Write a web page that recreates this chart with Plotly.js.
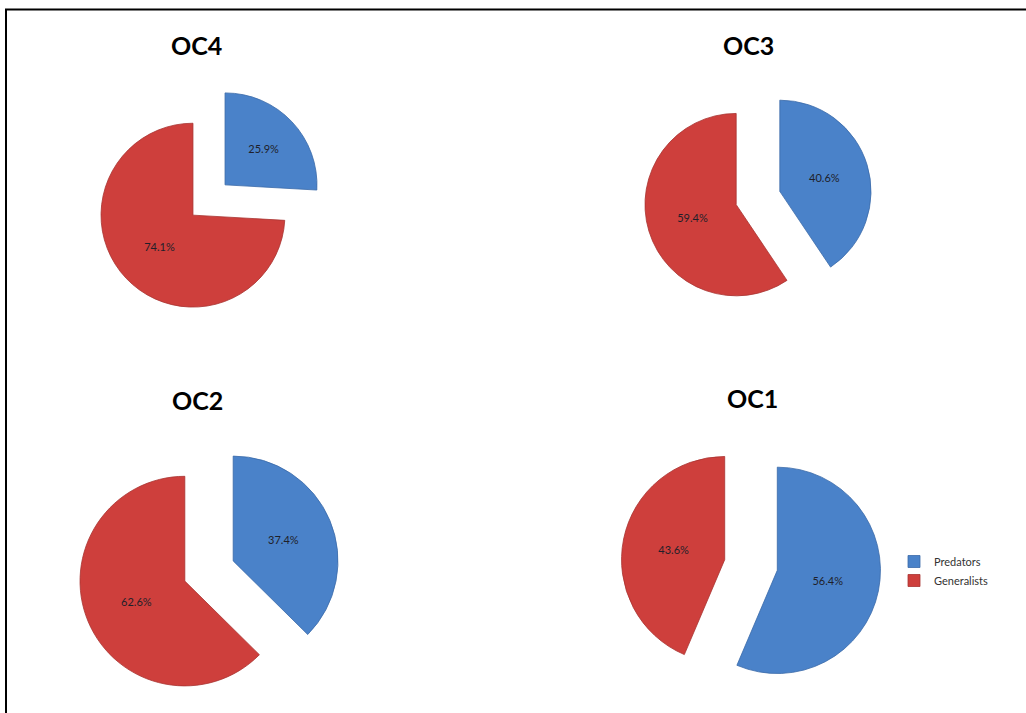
<!DOCTYPE html>
<html>
<head>
<meta charset="utf-8">
<script src="https://cdn.plot.ly/plotly-3.0.1.min.js"></script>
<style>html,body{margin:0;padding:0;background:#fff;}#chart{width:1026px;height:713px;}</style>
</head>
<body>
<div id="chart"></div>
<script>
var categories = ["Predators", "Generalists"];
var panelNames = ["OC4", "OC3", "OC2", "OC1"];
var oc4Values = [25.9, 74.1];
var oc3Values = [40.6, 59.4];
var oc2Values = [37.4, 62.6];
var oc1Values = [56.4, 43.6];

var sliceColors = ["#4A82C9", "#CE3F3C"];
var sliceLines = ["#3A6AA8", "#A83331"];

var W = 1026, H = 713;
function px2domain(cx, cy, half) {
  return {
    x: [(cx - half) / W, (cx + half) / W],
    y: [1 - (cy + half) / H, 1 - (cy - half) / H]
  };
}

var panels = [
  {name: panelNames[0], values: oc4Values, dom: px2domain(209, 200, 114), pull: 0.24},
  {name: panelNames[1], values: oc3Values, dom: px2domain(758, 198, 114), pull: 0.25},
  {name: panelNames[2], values: oc2Values, dom: px2domain(209, 571, 131), pull: 0.25},
  {name: panelNames[3], values: oc1Values, dom: px2domain(751, 565, 130), pull: 0.26}
];

var data = panels.map(function (p, i) {
  return {
    type: "pie",
    name: p.name,
    labels: categories,
    values: p.values,
    sort: false,
    direction: "clockwise",
    rotation: 0,
    pull: [p.pull, p.pull],
    domain: p.dom,
    marker: {colors: sliceColors, line: {color: sliceLines, width: 0.8}},
    texttemplate: "%{value:.1f}%",
    textposition: "inside",
    insidetextorientation: "horizontal",
    textfont: {family: "Lato, 'Open Sans', sans-serif", size: 11, color: "#1f1f2a"},
    hoverinfo: "label+value",
    showlegend: i === 0
  };
});

var titlePos = [[196, 45], [748, 45], [197, 400], [752, 398]];
var annotations = panels.map(function (p, i) {
  return {
    text: "<b>" + p.name + "</b>",
    xref: "paper", yref: "paper",
    x: titlePos[i][0] / W, y: 1 - titlePos[i][1] / H,
    xanchor: "center", yanchor: "middle",
    showarrow: false,
    font: {family: "Lato, 'Open Sans', sans-serif", size: 25, color: "#000"}
  };
});

var layout = {
  width: W, height: H,
  margin: {l: 0, r: 0, t: 0, b: 0},
  paper_bgcolor: "#fff",
  showlegend: true,
  legend: {
    x: 894 / W, y: 1 - 571 / H, xanchor: "left", yanchor: "middle",
    font: {family: "Lato, 'Open Sans', sans-serif", size: 11, color: "#333"},
    bgcolor: "rgba(0,0,0,0)"
  },
  annotations: annotations,
  shapes: [
    {type: "line", xref: "paper", yref: "paper", x0: 5 / W, x1: 1, y0: 1 - 9.5 / H, y1: 1 - 9.5 / H, line: {color: "#000", width: 2}},
    {type: "line", xref: "paper", yref: "paper", x0: 6 / W, x1: 6 / W, y0: 0, y1: 1 - 9.5 / H, line: {color: "#000", width: 2}}
  ]
};

Plotly.newPlot("chart", data, layout, {displayModeBar: false, staticPlot: true});
</script>
</body>
</html>
